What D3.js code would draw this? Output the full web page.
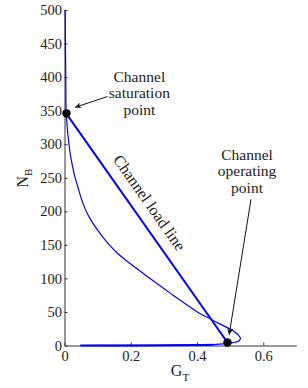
<!DOCTYPE html>
<html>
<head>
<meta charset="utf-8">
<script src="https://cdn.jsdelivr.net/npm/d3@7"></script>
<style>
  html, body { margin: 0; padding: 0; background: #fff; }
  svg { display: block; font-family: "Liberation Serif", "Times New Roman", serif; }
</style>
</head>
<body>
<svg id="chart" width="308" height="388"></svg>
<script>
// Equilibrium curve (G_T, N_B)
const curveG = [0.002, 0.003, 0.004, 0.005, 0.007, 0.010, 0.014, 0.018, 0.024, 0.031, 0.040, 0.050,
                0.062, 0.075, 0.090, 0.105, 0.120, 0.136, 0.160, 0.186, 0.215, 0.246, 0.280, 0.317,
                0.342, 0.377, 0.410, 0.437, 0.465, 0.490, 0.510, 0.524, 0.531, 0.527, 0.515, 0.500,
                0.480, 0.450, 0.400, 0.300, 0.150, 0.048];
const curveN = [500, 440, 390, 348, 333, 316, 298, 283, 268, 252, 237, 220,
                204, 191, 179, 168.5, 159, 149.5, 137.5, 126.8, 115.8, 104.3, 92, 78.8,
                70, 58, 47.2, 40.5, 33, 27, 21.5, 16, 11, 7, 4.8, 3.6,
                2.3, 1.3, 0.7, 0.3, 0.1, 0];
// Channel load line
const loadG = [0.005, 0.492];
const loadN = [346, 4.5];
// Marked points: saturation, operating
const pointG = [0.006, 0.492];
const pointN = [346, 4.5];

const xTicks = [0, 0.2, 0.4, 0.6];
const yTicks = [0, 50, 100, 150, 200, 250, 300, 350, 400, 450, 500];

(function () {
    const svg = d3.select("#chart");
    const x = d3.scaleLinear().domain([0, 0.7]).range([64.5, 296.4]);
    const y = d3.scaleLinear().domain([0, 500]).range([345.5, 10]);
    const ink = "#222";

    // axes (MATLAB style: inward ticks, no box)
    const gx = svg.append("g").attr("transform", `translate(0,${y(0)})`)
        .call(d3.axisBottom(x).tickValues(xTicks).tickFormat(d => d === 0 ? "0" : d3.format(".1f")(d))
            .tickSizeInner(-3).tickSizeOuter(0).tickPadding(5));
    const gy = svg.append("g").attr("transform", `translate(${x(0)},0)`)
        .call(d3.axisLeft(y).tickValues(yTicks).tickFormat(d3.format("d"))
            .tickSizeInner(-3).tickSizeOuter(0).tickPadding(2.5));
    [gx, gy].forEach(g => {
        g.select(".domain").attr("stroke", "#333");
        g.selectAll(".tick line").attr("stroke", "#333");
        g.selectAll(".tick text").attr("fill", ink).attr("font-size", 14.5)
            .attr("font-family", "Liberation Serif, Times New Roman, serif");
    });

    // data lines
    const curve = curveG.map((g, i) => [g, curveN[i]]);
    const line = d3.line().x(d => x(d[0])).y(d => y(d[1])).curve(d3.curveCatmullRom.alpha(0.5));
    svg.append("path").attr("d", line(curve))
        .attr("fill", "none").attr("stroke", "#0000ff").attr("stroke-width", 1.2);
    // lower branch appears heavier in the original
    svg.append("path").attr("d", line(curve.filter(d => d[1] <= 1.3)))
        .attr("fill", "none").attr("stroke", "#0000ff").attr("stroke-width", 2);

    const load = loadG.map((g, i) => [g, loadN[i]]);
    svg.append("path").attr("d", d3.line().x(d => x(d[0])).y(d => y(d[1]))(load))
        .attr("fill", "none").attr("stroke", "#0000ff").attr("stroke-width", 2);

    svg.selectAll("circle.pt").data(pointG.map((g, i) => [g, pointN[i]])).join("circle")
        .attr("class", "pt").attr("cx", d => x(d[0])).attr("cy", d => y(d[1]))
        .attr("r", 4.2).attr("fill", "#000");

    // arrows
    svg.append("defs").append("marker").attr("id", "ah")
        .attr("viewBox", "0 0 10 10").attr("refX", 10).attr("refY", 5)
        .attr("markerWidth", 8).attr("markerHeight", 6).attr("markerUnits", "userSpaceOnUse")
        .attr("orient", "auto")
        .append("path").attr("d", "M0,0 L10,5 L0,10 L3,5 Z").attr("fill", "#111");
    const arrows = [
        [[0.130, 371], [0.032, 355]],
        [[0.563, 218], [0.497, 16]]
    ];
    arrows.forEach(a => {
        svg.append("line")
            .attr("x1", x(a[0][0])).attr("y1", y(a[0][1]))
            .attr("x2", x(a[1][0])).attr("y2", y(a[1][1]))
            .attr("stroke", "#111").attr("stroke-width", 1)
            .attr("marker-end", "url(#ah)");
    });

    // annotations
    function label(lines, gx0, ys) {
        lines.forEach((t, i) => {
            svg.append("text").attr("x", x(gx0)).attr("y", y(ys[i]))
                .attr("text-anchor", "middle").attr("font-size", 15.5).attr("fill", ink).text(t);
        });
    }
    label(["Channel", "saturation", "point"], 0.226, [393, 369, 343]);
    label(["Channel", "operating", "point"], 0.551, [276, 252, 227]);

    const ang = Math.atan2(y(loadN[1]) - y(loadN[0]), x(loadG[1]) - x(loadG[0])) * 180 / Math.PI;
    svg.append("text")
        .attr("transform", `translate(${x(0.243)},${y(208)}) rotate(${ang})`)
        .attr("text-anchor", "middle").attr("font-size", 16).attr("fill", ink)
        .text("Channel load line");

    // axis titles
    const yl = svg.append("text").attr("transform", "translate(28,178) rotate(-90)")
        .attr("text-anchor", "middle").attr("font-size", 16).attr("fill", ink);
    yl.append("tspan").text("N");
    yl.append("tspan").attr("font-size", 11).attr("dy", 4).text("B");

    const xl = svg.append("text").attr("x", 180).attr("y", 376)
        .attr("text-anchor", "middle").attr("font-size", 16).attr("fill", ink);
    xl.append("tspan").text("G");
    xl.append("tspan").attr("font-size", 11).attr("dy", 5).text("T");
})();
</script>
</body>
</html>
